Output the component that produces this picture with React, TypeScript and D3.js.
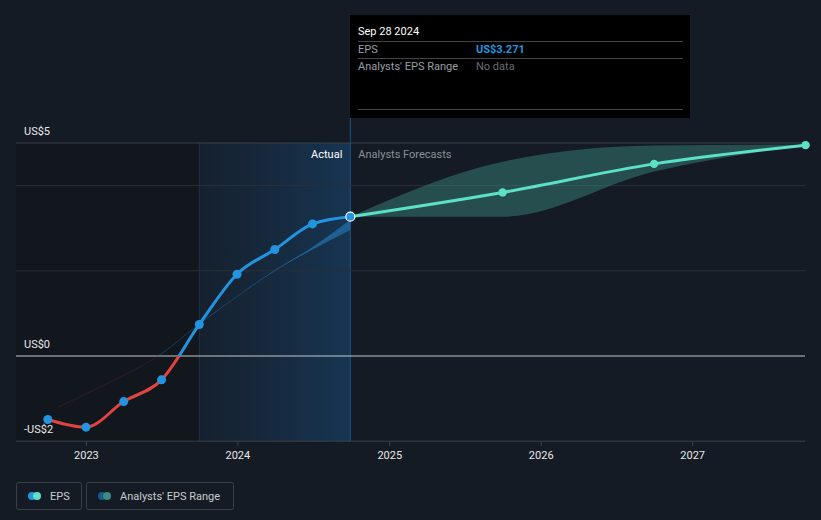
import React from "react";
import * as d3 from "d3";

const actualDates = ["2022-09-30", "2022-12-31", "2023-04-01", "2023-07-01", "2023-09-30", "2023-12-30", "2024-03-30", "2024-06-29", "2024-09-28"];
const actualEps = [-1.49, -1.67, -1.07, -0.56, 0.74, 1.92, 2.5, 3.1, 3.271];

const forecastDates = ["2024-09-28", "2025-09-30", "2026-09-30", "2027-09-30"];
const forecastEps = [3.271, 3.84, 4.51, 4.95];
const forecastLow = [3.271, 3.27, 4.33, 4.95];
const forecastHigh = [3.271, 4.56, 4.94, 4.96];

const pastRangeDates = ["2022-10-25", "2023-03-01", "2023-06-20", "2023-09-30", "2023-12-30", "2024-03-30", "2024-06-29", "2024-09-28"];
const pastRangeLow = [-1.2, -0.6, -0.02, 0.75, 1.4, 2.0, 2.5, 2.96];
const pastRangeHigh = [-1.2, -0.6, -0.02, 0.75, 1.4, 2.01, 2.56, 3.2];

const yTicks = [-2, 0, 5];
const yTickLabels = ["-US$2", "US$0", "US$5"];
const gridValues = [2, 4];
const xTickYears = [2023, 2024, 2025, 2026, 2027];

const W = 821;
const H = 520;
const L = 16;
const R = 805;

const parse = (s: string) => new Date(s + "T00:00:00");

export default function App() {
  const x = d3.scaleTime().domain([new Date(2023, 0, 1), new Date(2027, 0, 1)]).range([86.4, 692.7]);
  const y = d3.scaleLinear().domain([-2, 5]).range([441.2, 143]);

  const actual = actualDates.map((d, i) => ({ d: parse(d), v: actualEps[i] }));
  const forecast = forecastDates.map((d, i) => ({ d: parse(d), v: forecastEps[i], lo: forecastLow[i], hi: forecastHigh[i] }));
  const past = pastRangeDates.map((d, i) => ({ d: parse(d), lo: pastRangeLow[i], hi: pastRangeHigh[i] }));

  const line = d3.line<{ d: Date; v: number }>().x(p => x(p.d)).y(p => y(p.v)).curve(d3.curveMonotoneX);
  const band = d3.area<{ d: Date; lo: number; hi: number }>().x(p => x(p.d)).y0(p => y(p.lo)).y1(p => y(p.hi)).curve(d3.curveMonotoneX);
  const pastMid = d3.line<{ d: Date; lo: number; hi: number }>().x(p => x(p.d)).y(p => y((p.lo + p.hi) / 2)).curve(d3.curveMonotoneX);

  const y0 = y(0);
  const xActStart = x(parse("2023-09-30"));
  const xNow = x(parse("2024-09-28"));
  const last = actual[actual.length - 1];
  const font = "Roboto, 'Noto Sans', sans-serif";

  return (
    <div style={{ position: "absolute", left: 0, top: 0, width: W, height: H }}>
      <svg width={W} height={H} style={{ display: "block", fontFamily: font }}>
        <defs>
          <linearGradient id="actGrad" x1="0" x2="1" y1="0" y2="0">
            <stop offset="0" stopColor="#1a4a78" stopOpacity="0.12" />
            <stop offset="1" stopColor="#1a5a94" stopOpacity="0.42" />
          </linearGradient>
          <clipPath id="above">
            <rect x={0} y={0} width={W} height={y0} />
          </clipPath>
          <clipPath id="below">
            <rect x={0} y={y0} width={W} height={H - y0} />
          </clipPath>
        </defs>
        <rect x={0} y={0} width={W} height={H} fill="#151b24" />
        {/* shaded regions */}
        <rect x={L} y={143} width={xActStart - L} height={441.2 - 143} fill="#0f1217" opacity={0.45} />
        <rect x={xActStart} y={143} width={xNow - xActStart} height={441.2 - 143} fill="url(#actGrad)" />
        <line x1={xActStart} x2={xActStart} y1={143} y2={441} stroke="#1e3348" strokeWidth={1} />
        <line x1={xNow} x2={xNow} y1={118} y2={441} stroke="#1f5480" strokeWidth={1} />

        {/* gridlines */}
        {gridValues.map(v => (
          <line key={v} x1={L} x2={R} y1={y(v)} y2={y(v)} stroke="#2a3038" strokeWidth={1} />
        ))}
        <line x1={L} x2={R} y1={y(5)} y2={y(5)} stroke="#3a4048" strokeWidth={1} />
        <line x1={L} x2={R} y1={y(-2)} y2={y(-2)} stroke="#3a4048" strokeWidth={1} />
        <line x1={L} x2={R} y1={y0} y2={y0} stroke="#c8c8c8" strokeWidth={1.2} />

        {yTicks.map((v, i) => (
          <text key={v} x={24} y={y(v) - 8} fill="#e8e8e8" fontSize={11}>{yTickLabels[i]}</text>
        ))}

        {xTickYears.map(yr => {
          const xx = x(new Date(yr, 0, 1));
          return (
            <g key={yr}>
              <line x1={xx} x2={xx} y1={441} y2={446} stroke="#3a4048" />
              <text x={xx} y={459} fill="#e8e8e8" fontSize={11} textAnchor="middle">{yr}</text>
            </g>
          );
        })}

        <text x={xNow - 8} y={158} fill="#ffffff" fontSize={11} textAnchor="end">Actual</text>
        <text x={xNow + 8} y={158} fill="#8a8f96" fontSize={11}>Analysts Forecasts</text>

        {/* past estimate band */}
        <g clipPath="url(#above)">
          <path d={band(past) || ""} fill="#2470ad" opacity={0.7} />
          <path d={pastMid(past) || ""} fill="none" stroke="#2470ad" strokeWidth={1} opacity={0.4} />
        </g>
        <g clipPath="url(#below)">
          <path d={pastMid(past) || ""} fill="none" stroke="#7a2a30" strokeWidth={1} opacity={0.3} />
        </g>

        {/* forecast band */}
        <path d={band(forecast) || ""} fill="#3a827a" opacity={0.5} />

        {/* actual line */}
        <path d={line(actual) || ""} fill="none" stroke="#2394df" strokeWidth={3} clipPath="url(#above)" />
        <path d={line(actual) || ""} fill="none" stroke="#e0443f" strokeWidth={3} clipPath="url(#below)" />
        <path d={line(forecast) || ""} fill="none" stroke="#5ce0c8" strokeWidth={3} />

        {actual.slice(0, -1).map((p, i) => (
          <circle key={i} cx={x(p.d)} cy={y(p.v)} r={4.5} fill="#2394df" />
        ))}
        {forecast.slice(1).map((p, i) => (
          <circle key={i} cx={x(p.d)} cy={y(p.v)} r={4.2} fill="#5ce0c8" />
        ))}
        <circle cx={x(last.d)} cy={y(last.v)} r={4.5} fill="#2394df" stroke="#ffffff" strokeWidth={1.2} />

        {/* tooltip */}
        <rect x={350} y={15} width={340} height={103} fill="#000000" />
        <text x={358} y={35} fill="#ffffff" fontSize={11}>Sep 28 2024</text>
        <line x1={358} x2={683} y1={41.5} y2={41.5} stroke="#444" />
        <text x={358} y={53} fill="#9a9ea4" fontSize={11}>EPS</text>
        <text x={476} y={53} fill="#2394df" fontSize={11} fontWeight="bold">US$3.271</text>
        <line x1={358} x2={683} y1={58.5} y2={58.5} stroke="#444" />
        <text x={358} y={70} fill="#9a9ea4" fontSize={11}>Analysts' EPS Range</text>
        <text x={476} y={70} fill="#6a6e74" fontSize={11}>No data</text>
        <line x1={358} x2={683} y1={109.5} y2={109.5} stroke="#444" />

        {/* legend */}
        <rect x={16.5} y={482.5} width={65} height={27} rx={2} fill="none" stroke="#3a4048" />
        <circle cx={32} cy={496} r={4} fill="#2394df" />
        <circle cx={37} cy={496} r={4} fill="#5ce0c8" />
        <text x={50} y={500} fill="#c8ccd0" fontSize={11}>EPS</text>
        <rect x={86.5} y={482.5} width={147} height={27} rx={2} fill="none" stroke="#3a4048" />
        <circle cx={102} cy={496} r={4} fill="#1f5a85" />
        <circle cx={107} cy={496} r={4} fill="#3f8a82" />
        <text x={120} y={500} fill="#c8ccd0" fontSize={11}>Analysts' EPS Range</text>
      </svg>
    </div>
  );
}
